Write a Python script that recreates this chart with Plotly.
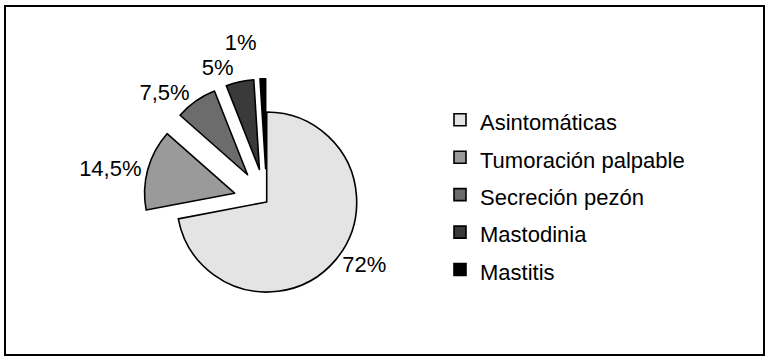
import plotly.graph_objects as go

categories = ["Asintomáticas", "Tumoración palpable", "Secreción pezón", "Mastodinia", "Mastitis"]
values = [72, 14.5, 7.5, 5, 1]
value_labels = ["72%", "14,5%", "7,5%", "5%", "1%"]
colors = ["#e4e4e4", "#9a9a9a", "#6c6c6c", "#3a3a3a", "#000000"]
pulls = [0, 0.37, 0.37, 0.37, 0.37]

W, H = 772, 362
cx, cy, r = 266.7, 202, 90
half = r * (1 + max(pulls))
FONT = "Liberation Sans, Arial, Helvetica, sans-serif"

# legend entries rendered at 22px; legend font set larger only to widen row spacing
legend_labels = ['<span style="font-size:22px">%s</span>' % c for c in categories]

fig = go.Figure(go.Pie(
    labels=legend_labels,
    values=values,
    text=value_labels,
    textinfo="text",
    textposition="outside",
    sort=False,
    direction="clockwise",
    rotation=0,
    pull=pulls,
    marker=dict(colors=colors, line=dict(color="#000000", width=1.6)),
    textfont=dict(family=FONT, size=22, color="#000000"),
    domain=dict(x=[(cx - half) / W, (cx + half) / W], y=[1 - (cy + half) / H, 1 - (cy - half) / H]),
    hoverinfo="label+text",
))

fig.update_layout(
    width=W, height=H, autosize=False,
    margin=dict(l=0, r=0, t=0, b=0, pad=0, autoexpand=False),
    paper_bgcolor="#ffffff",
    plot_bgcolor="#ffffff",
    font=dict(family=FONT, size=22, color="#000000"),
    showlegend=True,
    legend=dict(x=440 / W, y=1 - 195 / H, xanchor="left", yanchor="middle",
                font=dict(family=FONT, size=26.5, color="#000000"), bgcolor="rgba(0,0,0,0)"),
    shapes=[dict(type="rect", xref="paper", yref="paper",
                 x0=5 / W, x1=764 / W, y0=1 - 355 / H, y1=1 - 6 / H,
                 line=dict(color="#000000", width=2), fillcolor="rgba(0,0,0,0)")],
)

fig.write_html(
    "out.html",
    config={"displayModeBar": False},
    post_script=(
        "document.body.style.margin='0';"
        "document.querySelectorAll('path.textline').forEach(function(e){e.style.display='none';});"
    ),
)
